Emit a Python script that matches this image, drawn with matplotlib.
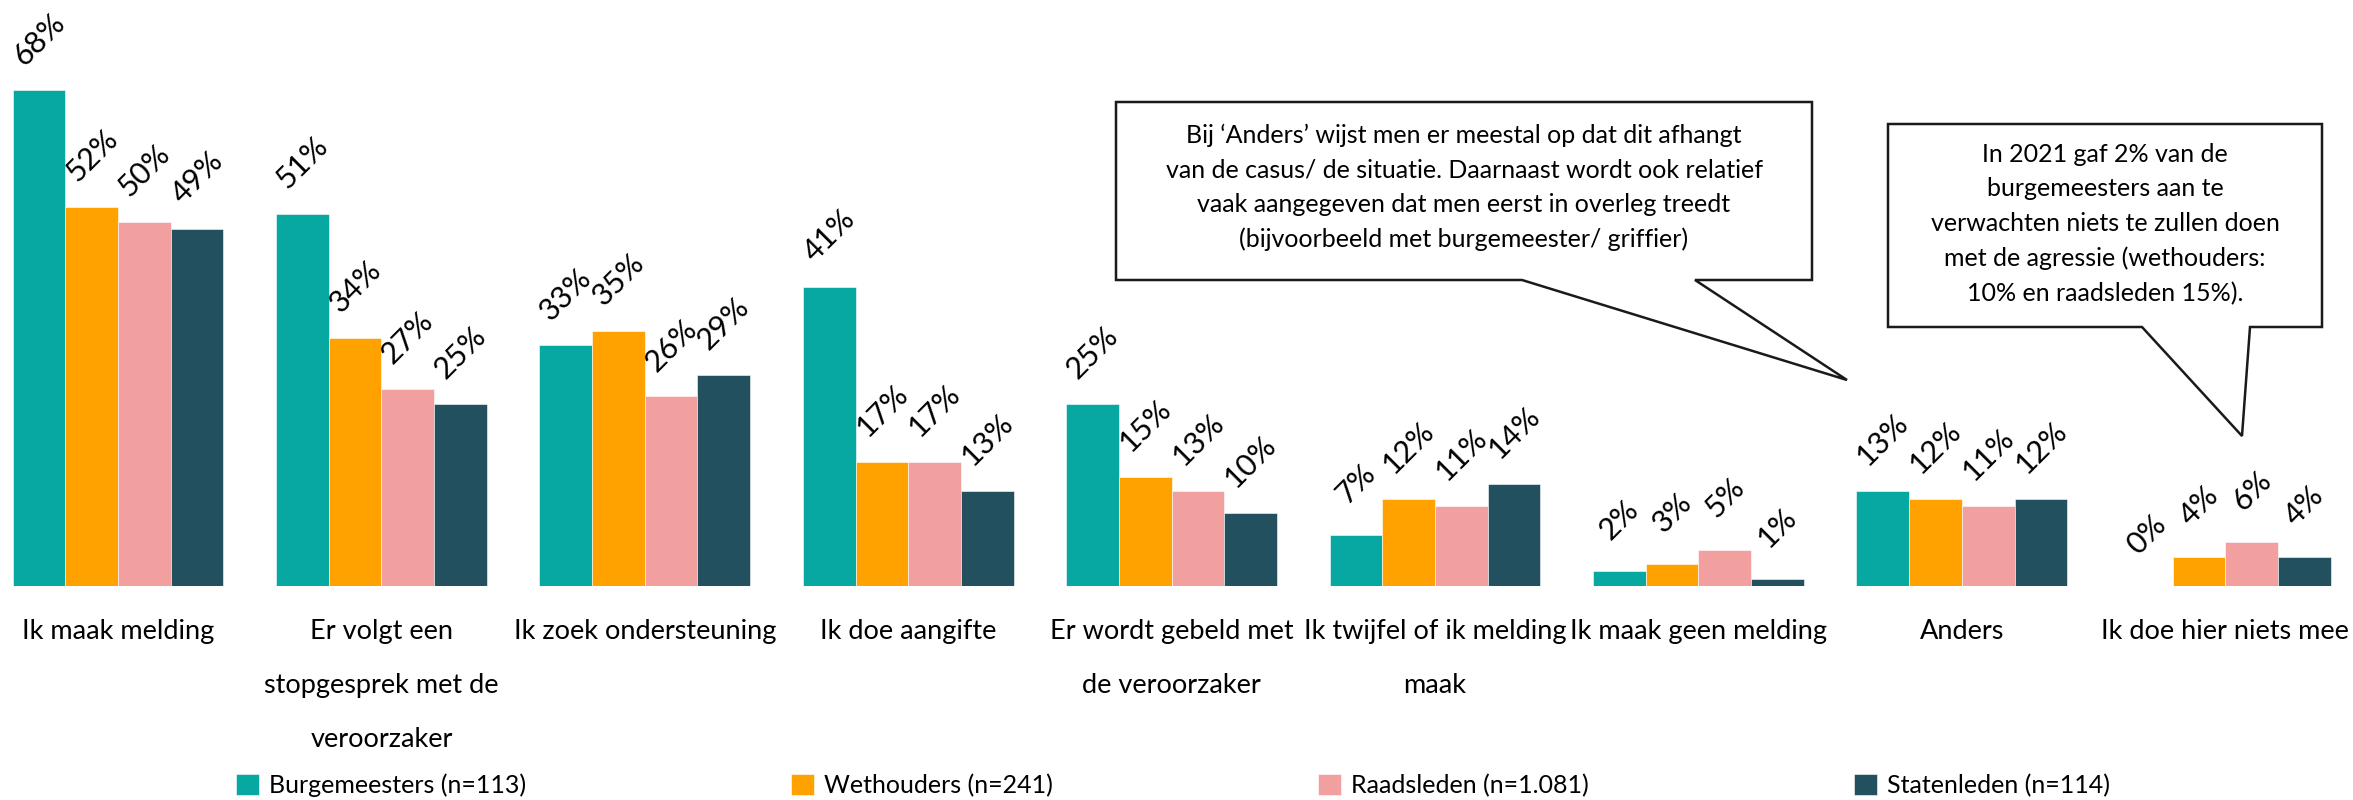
import matplotlib
matplotlib.use("Agg")
import matplotlib.pyplot as plt
from matplotlib.patches import Polygon
import numpy as np

plt.rcParams['font.family'] = ['Lato', 'DejaVu Sans']

# categories and series (percentages)
categories = ["Ik maak melding",
              "Er volgt een\nstopgesprek met de\nveroorzaker",
              "Ik zoek ondersteuning",
              "Ik doe aangifte",
              "Er wordt gebeld met\nde veroorzaker",
              "Ik twijfel of ik melding\nmaak",
              "Ik maak geen melding",
              "Anders",
              "Ik doe hier niets mee"]
burgemeesters = [68, 51, 33, 41, 25, 7, 2, 13, 0]
wethouders = [52, 34, 35, 17, 15, 12, 3, 12, 4]
raadsleden = [50, 27, 26, 17, 13, 11, 5, 11, 6]
statenleden = [49, 25, 29, 13, 10, 14, 1, 12, 4]
series_names = ["Burgemeesters (n=113)", "Wethouders (n=241)",
                "Raadsleden (n=1.081)", "Statenleden (n=114)"]

note_anders = ("Bij \u2018Anders\u2019 wijst men er meestal op dat dit afhangt\n"
               "van de casus/ de situatie. Daarnaast wordt ook relatief\n"
               "vaak aangegeven dat men eerst in overleg treedt\n"
               "(bijvoorbeeld met burgemeester/ griffier)")
note_niets = ("In 2021 gaf 2% van de\nburgemeesters aan te\n"
              "verwachten niets te zullen doen\nmet de agressie (wethouders:\n"
              "10% en raadsleden 15%).")

colors = ["#07A8A2", "#FFA200", "#F29F9F", "#23505F"]

W, H = 2353, 800
fig = plt.figure(figsize=(W / 100, H / 100), dpi=100)
ax = fig.add_axes([0, 1 - 586 / H, 1, 586 / H])

x = np.arange(len(categories))
bw = 0.2
all_series = [burgemeesters, wethouders, raadsleden, statenleden]
for j, (vals, name, c) in enumerate(zip(all_series, series_names, colors)):
    pos = x + (j - 1.5) * bw
    ax.bar(pos, vals, width=bw, color=c, label=name, edgecolor='white', linewidth=0.4)
    for px_, v in zip(pos, vals):
        ax.annotate(f"{v}%", (px_, v), xytext=(0, 37), textcoords='offset points',
                    ha='center', va='center', rotation=45, rotation_mode='anchor',
                    fontsize=22, color='black')

ax.set_xlim(-0.448, 8.485)
ax.set_ylim(0, 80.4)
ax.set_yticks([])
ax.set_xticks(x)
ax.set_xticklabels(categories, fontsize=19.5, linespacing=2.45)
ax.tick_params(axis='x', length=0, pad=24)
for s in ax.spines.values():
    s.set_visible(False)

fig.legend(loc='lower left', bbox_to_anchor=(236 / W, 0.004), ncol=4, frameon=False,
           fontsize=18, handlelength=0.92, handleheight=0.92, handletextpad=0.4,
           columnspacing=10.6, borderpad=0, borderaxespad=0)


# speech bubbles (figure pixel coordinates, y measured from the top)
def bubble(pts, text, tx, ty):
    xy = [(px_ / W, 1 - py / H) for px_, py in pts]
    fig.patches.append(Polygon(xy, closed=True, facecolor='white', edgecolor='#1a1a1a',
                               linewidth=1.8, transform=fig.transFigure, zorder=5))
    fig.text(tx / W, 1 - ty / H, text, ha='center', va='top', fontsize=18,
             linespacing=1.6, zorder=6)


bubble([(1116, 102), (1812, 102), (1812, 280), (1695, 280), (1847, 380),
        (1522, 280), (1116, 280)], note_anders, 1464, 124)
bubble([(1888, 124), (2322, 124), (2322, 327), (2250, 327), (2242, 436),
        (2142, 327), (1888, 327)], note_niets, 2105, 143)

fig.savefig("out.png", dpi=100)
